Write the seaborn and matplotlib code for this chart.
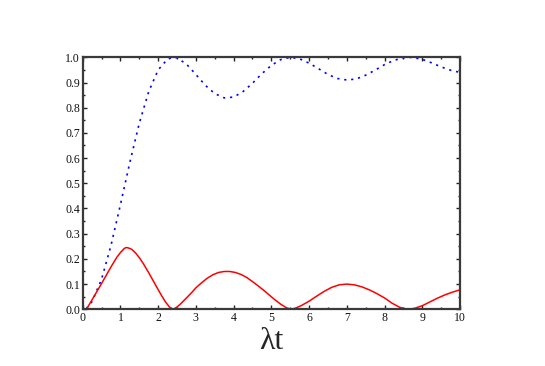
import matplotlib
matplotlib.use("Agg")
import matplotlib.pyplot as plt
from matplotlib.ticker import MultipleLocator, FormatStrFormatter
import pandas as pd
import seaborn as sns

# values
T_BLUE = [0.1, 0.25, 0.5, 0.75, 1.0, 1.25, 1.5, 1.75, 2.0, 2.25, 2.4, 2.5, 2.75,
          3.0, 3.25, 3.5, 3.75, 4.0, 4.25, 4.5, 4.75, 5.0, 5.25, 5.5, 5.75, 6.0,
          6.25, 6.5, 6.75, 7.0, 7.25, 7.5, 7.75, 8.0, 8.25, 8.5, 8.65, 8.75, 9.0,
          9.25, 9.5, 9.75, 10.0]
BLUE = [0.003, 0.031, 0.119, 0.253, 0.415, 0.583, 0.738, 0.864, 0.950, 0.993, 1.0,
        0.998, 0.973, 0.932, 0.889, 0.856, 0.839, 0.842, 0.864, 0.897, 0.935,
        0.968, 0.991, 1.0, 0.994, 0.977, 0.955, 0.932, 0.916, 0.910, 0.914,
        0.929, 0.949, 0.971, 0.988, 0.998, 1.0, 0.999, 0.992, 0.978, 0.962,
        0.949, 0.940]

T_RED = [0.1, 0.25, 0.5, 0.75, 0.9, 1.0, 1.1, 1.15, 1.2, 1.3, 1.4, 1.5, 1.6,
         1.75, 1.9, 2.0, 2.1, 2.2, 2.3, 2.4, 2.5, 2.6, 2.75, 2.9, 3.0, 3.15, 3.3,
         3.45, 3.6, 3.75, 3.9, 4.05, 4.2, 4.35, 4.5, 4.65, 4.8, 4.95, 5.1, 5.25,
         5.4, 5.52, 5.65, 5.8, 6.0, 6.2, 6.4, 6.6, 6.8, 7.0, 7.2, 7.4, 7.6, 7.8,
         8.0, 8.2, 8.4, 8.55, 8.65, 8.8, 9.0, 9.2, 9.4, 9.6, 9.8, 10.0]
RED = [0.0, 0.038, 0.102, 0.168, 0.205, 0.225, 0.241, 0.245, 0.244, 0.238, 0.224,
       0.205, 0.183, 0.145, 0.105, 0.078, 0.052, 0.028, 0.009, 0.0, 0.009, 0.022,
       0.045, 0.068, 0.085, 0.105, 0.123, 0.137, 0.146, 0.150, 0.150, 0.146,
       0.138, 0.126, 0.110, 0.093, 0.075, 0.056, 0.037, 0.020, 0.006, 0.0, 0.005,
       0.015, 0.032, 0.052, 0.071, 0.087, 0.097, 0.100, 0.097, 0.089, 0.077,
       0.062, 0.045, 0.024, 0.008, 0.002, 0.0, 0.004, 0.014, 0.029, 0.044, 0.057,
       0.068, 0.077]

X_LABEL = "λt"


def main() -> None:
    sns.set_theme(style="ticks")
    plt.rcParams["font.family"] = ["Liberation Serif", "DejaVu Serif"]

    blue_df = pd.DataFrame({"t": T_BLUE, "v": BLUE})
    red_df = pd.DataFrame({"t": T_RED, "v": RED})

    fig = plt.figure(figsize=(5.45, 3.66), dpi=100)
    ax = fig.add_axes([0.1517, 0.155, 0.6923, 0.6884])

    sns.lineplot(data=blue_df, x="t", y="v", ax=ax, color="#0000ff",
                 linewidth=1.2, linestyle=(0, (1.3, 2.9)))
    sns.lineplot(data=red_df, x="t", y="v", ax=ax, color="#ff0000", linewidth=1.1)

    ax.set_xlim(0, 10)
    ax.set_ylim(0, 1)
    ax.xaxis.set_major_locator(MultipleLocator(1))
    ax.xaxis.set_minor_locator(MultipleLocator(0.5))
    ax.yaxis.set_major_locator(MultipleLocator(0.1))
    ax.yaxis.set_minor_locator(MultipleLocator(0.05))
    ax.yaxis.set_major_formatter(FormatStrFormatter("%.1f"))

    ax.tick_params(which="both", direction="in", top=True, right=True,
                   color="#222222", labelsize=8.5, labelcolor="#111111")
    ax.tick_params(which="major", length=3, width=1, pad=2)
    ax.tick_params(which="minor", length=1.5, width=1)
    for side in ax.spines.values():
        side.set_linewidth(1.6)
        side.set_color("#3a3a3a")

    ax.set_xlabel(X_LABEL, fontsize=23, labelpad=2)
    ax.set_ylabel("")

    fig.savefig("out.png", dpi=100)
    plt.close(fig)


if __name__ == "__main__":
    main()
